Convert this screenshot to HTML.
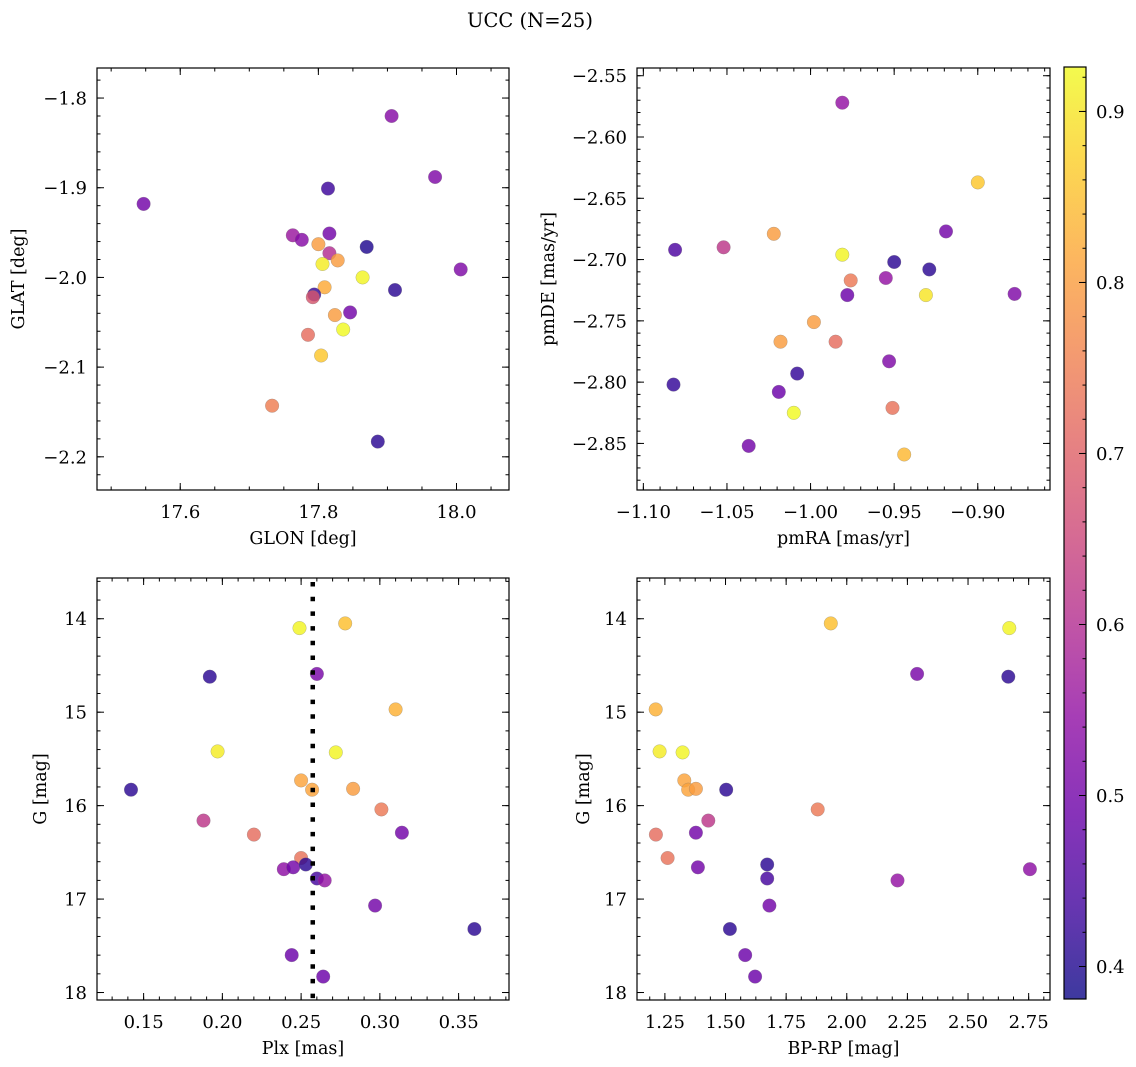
<!DOCTYPE html>
<html><head><meta charset="utf-8"><style>
html,body{margin:0;padding:0;background:#fff;}
svg{display:block;font-family:"DejaVu Serif","Liberation Serif",serif;}
</style></head><body>
<svg id="fig" width="1136" height="1067" viewBox="0 0 1136 1067" xmlns="http://www.w3.org/2000/svg">
<defs>
<linearGradient id="plasmaGrad" x1="0" y1="1" x2="0" y2="0">
<stop offset="0" stop-color="#0d0887"/><stop offset="0.1" stop-color="#41049d"/><stop offset="0.2" stop-color="#6a00a8"/><stop offset="0.3" stop-color="#8f0da4"/><stop offset="0.4" stop-color="#b12a90"/><stop offset="0.5" stop-color="#cc4778"/><stop offset="0.6" stop-color="#e16462"/><stop offset="0.7" stop-color="#f2844b"/><stop offset="0.8" stop-color="#fca636"/><stop offset="0.9" stop-color="#fcce25"/><stop offset="1" stop-color="#f0f921"/>
</linearGradient>
</defs>
<text x="530" y="27" font-size="19.5" text-anchor="middle">UCC (N=25)</text>
</svg>
<script>
// ---- data ----
const glon = [17.906,17.969,17.547,17.814,17.763,17.776,17.816,17.800,17.870,17.816,17.806,17.828,17.864,18.006,17.809,17.794,17.792,17.911,17.824,17.846,17.836,17.785,17.804,17.733,17.886];
const glat = [-1.820,-1.888,-1.918,-1.901,-1.953,-1.958,-1.951,-1.963,-1.966,-1.973,-1.985,-1.981,-2.000,-1.991,-2.011,-2.019,-2.022,-2.014,-2.042,-2.039,-2.058,-2.064,-2.087,-2.143,-2.183];
const cPos = [0.53,0.52,0.50,0.43,0.56,0.53,0.50,0.80,0.40,0.60,0.91,0.80,0.92,0.52,0.82,0.42,0.68,0.41,0.80,0.50,0.93,0.72,0.86,0.75,0.41];
const pmra = [-0.981,-0.900,-1.022,-1.052,-1.081,-0.919,-0.981,-0.950,-0.929,-0.976,-0.955,-0.978,-0.931,-0.878,-0.998,-1.018,-0.985,-0.953,-1.008,-1.082,-1.019,-1.010,-0.951,-1.037,-0.944];
const pmde = [-2.572,-2.637,-2.679,-2.690,-2.692,-2.677,-2.696,-2.702,-2.708,-2.717,-2.715,-2.729,-2.729,-2.728,-2.751,-2.767,-2.767,-2.783,-2.793,-2.802,-2.808,-2.825,-2.821,-2.852,-2.859];
const cPm = [0.55,0.86,0.80,0.62,0.45,0.50,0.92,0.41,0.41,0.74,0.55,0.49,0.90,0.52,0.80,0.80,0.72,0.52,0.42,0.42,0.49,0.93,0.73,0.50,0.84];
const gmag = [14.10,14.05,14.62,14.59,14.97,15.42,15.43,15.83,15.73,15.83,15.82,16.04,16.16,16.31,16.29,16.56,16.68,16.66,16.63,16.78,16.80,17.07,17.32,17.60,17.83];
const plx = [0.249,0.278,0.192,0.260,0.310,0.197,0.272,0.142,0.250,0.257,0.283,0.301,0.188,0.220,0.314,0.250,0.239,0.245,0.253,0.260,0.265,0.297,0.360,0.244,0.264];
const bprp = [2.670,1.934,2.666,2.290,1.212,1.228,1.323,1.503,1.330,1.346,1.378,1.880,1.429,1.213,1.378,1.261,2.755,1.386,1.672,1.672,2.209,1.681,1.518,1.581,1.622];
const cG = [0.92,0.85,0.41,0.51,0.83,0.91,0.92,0.41,0.81,0.81,0.80,0.74,0.62,0.72,0.50,0.73,0.54,0.50,0.41,0.44,0.55,0.50,0.41,0.49,0.49];
const plxRef = [0.2574];
// ticks
const t1x = [17.6,17.8,18.0], t1xLab = ["17.6","17.8","18.0"];
const t1y = [-1.8,-1.9,-2.0,-2.1,-2.2], t1yLab = ["\u22121.8","\u22121.9","\u22122.0","\u22122.1","\u22122.2"];
const t2x = [-1.10,-1.05,-1.00,-0.95,-0.90], t2xLab = ["\u22121.10","\u22121.05","\u22121.00","\u22120.95","\u22120.90"];
const t2y = [-2.55,-2.60,-2.65,-2.70,-2.75,-2.80,-2.85], t2yLab = ["\u22122.55","\u22122.60","\u22122.65","\u22122.70","\u22122.75","\u22122.80","\u22122.85"];
const t3x = [0.15,0.20,0.25,0.30,0.35], t3xLab = ["0.15","0.20","0.25","0.30","0.35"];
const tGy = [14,15,16,17,18], tGyLab = ["14","15","16","17","18"];
const t4x = [1.25,1.50,1.75,2.00,2.25,2.50,2.75], t4xLab = ["1.25","1.50","1.75","2.00","2.25","2.50","2.75"];
const tCb = [0.4,0.5,0.6,0.7,0.8,0.9], tCbLab = ["0.4","0.5","0.6","0.7","0.8","0.9"];
const cMin = 0.381, cMax = 0.926;

const NS = "http://www.w3.org/2000/svg";
const svg = document.getElementById('fig');
function mk(tag, attrs, parent){ const e = document.createElementNS(NS, tag); for (const k in attrs) e.setAttribute(k, attrs[k]); (parent||svg).appendChild(e); return e; }

const plasma = ["#0d0887","#41049d","#6a00a8","#8f0da4","#b12a90","#cc4778","#e16462","#f2844b","#fca636","#fcce25","#f0f921"];
function hex2(h){ return [parseInt(h.slice(1,3),16),parseInt(h.slice(3,5),16),parseInt(h.slice(5,7),16)]; }
function cmap(v){
  let t = (v - cMin)/(cMax - cMin); t = Math.max(0, Math.min(1, t));
  const f = t*10, i = Math.min(9, Math.floor(f)), r = f - i;
  const a = hex2(plasma[i]), b = hex2(plasma[i+1]);
  return "rgb(" + a.map((x,k)=>Math.round(x+(b[k]-x)*r)).join(",") + ")";
}

const TICKFS = 18, TITLEFS = 17.5;

function panel(o){
  const g = mk('g', {});
  
  
  const sx = v => o.x0 + (v - o.xd[0])/(o.xd[1]-o.xd[0])*(o.x1-o.x0);
  const sy = o.invert ? (v => o.y0 + (v - o.yd[0])/(o.yd[1]-o.yd[0])*(o.y1-o.y0))
                      : (v => o.y1 - (v - o.yd[0])/(o.yd[1]-o.yd[0])*(o.y1-o.y0));
  const pg = mk('g', {}, g);
  
  
  for (let i = 0; i < o.xs.length; i++) {
    const c = mk('circle', {cx: sx(o.xs[i]).toFixed(1), cy: sy(o.ys[i]).toFixed(1), r: 6.8, fill: cmap(o.cs[i]), 'fill-opacity': 0.82, stroke: '#777', 'stroke-opacity': 0.5, 'stroke-width': 0.5}, pg);
    
    
  }
  if (o.vline) {
    for (const v of o.vline) {
      const l = mk('line', {x1: sx(v), x2: sx(v), y1: o.y0+4, y2: o.y1, stroke: '#000', 'stroke-width': 4.5, 'stroke-dasharray': '4.5 10.2'}, g);
      
      
    }
  }
  const fr = mk('rect', {x: o.x0, y: o.y0, width: o.x1-o.x0, height: o.y1-o.y0, fill: 'none', stroke: '#000', 'stroke-width': 1.2}, g);
  
  
  const tk = mk('g', {stroke: '#000', 'stroke-width': 1}, g);
  
  
  const eps = 1e-9;
  function xtick(v, len){ const X = sx(v); if (X < o.x0-0.5 || X > o.x1+0.5) return; mk('line',{x1:X,x2:X,y1:o.y1,y2:o.y1-len},tk); mk('line',{x1:X,x2:X,y1:o.y0,y2:o.y0+len},tk); }
  function ytick(v, len){ const Y = sy(v); if (Y < o.y0-0.5 || Y > o.y1+0.5) return; mk('line',{x1:o.x0,x2:o.x0+len,y1:Y,y2:Y},tk); mk('line',{x1:o.x1,x2:o.x1-len,y1:Y,y2:Y},tk); }
  const xlo = Math.min(...o.xd), xhi = Math.max(...o.xd), ylo = Math.min(...o.yd), yhi = Math.max(...o.yd);
  for (let v = Math.ceil(xlo/o.xm - eps)*o.xm; v <= xhi + eps; v += o.xm) xtick(v, 3.5);
  for (let v = Math.ceil(ylo/o.ym - eps)*o.ym; v <= yhi + eps; v += o.ym) ytick(v, 3.5);
  o.xt.forEach(v => xtick(v, 7));
  o.yt.forEach(v => ytick(v, 7));
  o.xt.forEach((v,i) => {
    const t = mk('text', {x: sx(v), y: o.y1+28, 'font-size': TICKFS, 'text-anchor': 'middle'}, g);
    t.textContent = o.xl[i];
    
    
  });
  o.yt.forEach((v,i) => {
    const t = mk('text', {x: o.x0-10, y: sy(v)+6.5, 'font-size': TICKFS, 'text-anchor': 'end'}, g);
    t.textContent = o.yl[i];
    
    
  });
  const xt = mk('text', {x: (o.x0+o.x1)/2, y: o.y1+54, 'font-size': TITLEFS, 'text-anchor': 'middle'}, g);
  xt.textContent = o.xtitle;
  
  
  const yt = mk('text', {x: 0, y: 0, 'font-size': TITLEFS, 'text-anchor': 'middle', transform: 'translate(' + o.ytx + ',' + ((o.y0+o.y1)/2) + ') rotate(-90)'}, g);
  yt.textContent = o.ytitle;
  
  
}

panel({name:'glon-glat-panel', x0:97, x1:509, y0:68, y1:490, xd:[17.4795,18.076], yd:[-2.237,-1.7665], xs:glon, ys:glat, cs:cPos, xt:t1x, xl:t1xLab, yt:t1y, yl:t1yLab, xm:0.05, ym:0.02, xtitle:'GLON [deg]', ytitle:'GLAT [deg]', ytx:24});
panel({name:'proper-motion-panel', x0:637, x1:1050, y0:68, y1:490, xd:[-1.1038,-0.8568], yd:[-2.888,-2.5437], xs:pmra, ys:pmde, cs:cPm, xt:t2x, xl:t2xLab, yt:t2y, yl:t2yLab, xm:0.01, ym:0.01, xtitle:'pmRA [mas/yr]', ytitle:'pmDE [mas/yr]', ytx:554});
panel({name:'plx-g-panel', x0:97, x1:509, y0:578, y1:1000, xd:[0.1204,0.382], yd:[13.564,18.08], invert:true, xs:plx, ys:gmag, cs:cG, xt:t3x, xl:t3xLab, yt:tGy, yl:tGyLab, xm:0.01, ym:0.2, xtitle:'Plx [mas]', ytitle:'G [mag]', ytx:46, vline:plxRef});
panel({name:'cmd-panel', x0:637, x1:1050, y0:578, y1:1000, xd:[1.135,2.838], yd:[13.564,18.08], invert:true, xs:bprp, ys:gmag, cs:cG, xt:t4x, xl:t4xLab, yt:tGy, yl:tGyLab, xm:0.0625, ym:0.2, xtitle:'BP-RP [mag]', ytitle:'G [mag]', ytx:589});

(function(){
  const x0 = 1064, x1 = 1086, y0 = 67, y1 = 999;
  const sy = v => y1 - (v - cMin)/(cMax - cMin)*(y1 - y0);
  const g = mk('g', {});
  
  
  mk('rect', {x:x0, y:y0, width:x1-x0, height:y1-y0, fill:'url(#plasmaGrad)', 'fill-opacity':0.8}, g);
  mk('rect', {x:x0, y:y0, width:x1-x0, height:y1-y0, fill:'none', stroke:'#000', 'stroke-width':1.2}, g);
  for (let v = Math.ceil(cMin/0.02)*0.02; v <= cMax; v += 0.02) mk('line', {x1:x1, x2:x1-3.5, y1:sy(v), y2:sy(v), stroke:'#000'}, g);
  tCb.forEach((v,i) => {
    mk('line', {x1:x1, x2:x1-7, y1:sy(v), y2:sy(v), stroke:'#000'}, g);
    const t = mk('text', {x:x1+10, y:sy(v)+6.5, 'font-size':TICKFS}, g);
    t.textContent = tCbLab[i];
    
    
  });
})();
</script>
</body></html>
